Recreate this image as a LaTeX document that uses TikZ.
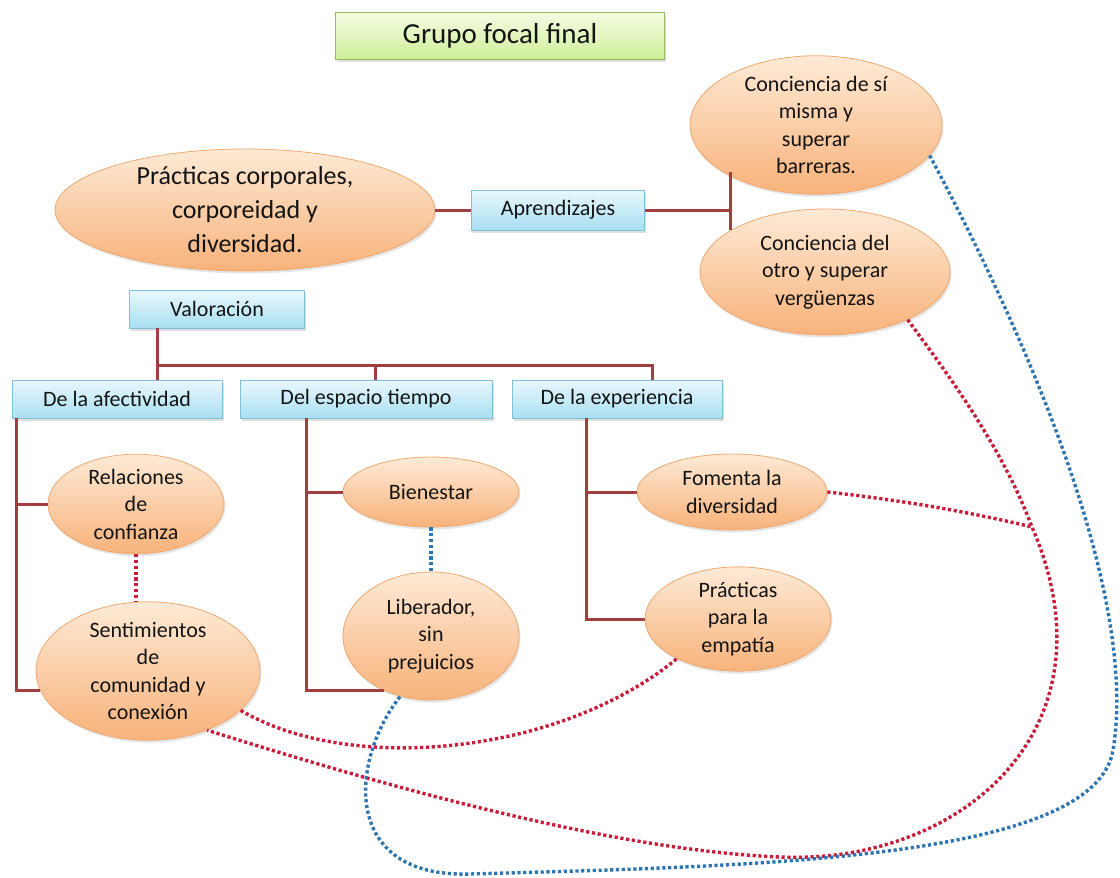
\documentclass[tikz,border=0pt]{standalone}
\usepackage{fontspec}
\setmainfont{Carlito}
\usetikzlibrary{shapes.geometric,shadows}
\definecolor{treeline}{RGB}{160,62,64}
\definecolor{reddot}{RGB}{200,28,58}
\definecolor{bluedot}{RGB}{46,118,178}
\definecolor{boxtop}{RGB}{234,248,253}
\definecolor{boxbot}{RGB}{168,223,241}
\definecolor{boxline}{RGB}{125,192,216}
\definecolor{elltop}{RGB}{253,234,214}
\definecolor{ellbot}{RGB}{248,178,122}
\definecolor{ellline}{RGB}{238,168,112}
\definecolor{titletop}{RGB}{246,252,228}
\definecolor{titlebot}{RGB}{206,238,152}
\definecolor{titleline}{RGB}{150,185,92}
\begin{document}
\begin{tikzpicture}[x=1pt,y=1pt]
\tikzstyle{every node}+=[inner sep=0pt,align=center,text=black!92]
\tikzstyle{titlenode}=[rectangle,draw=titleline,line width=0.8pt,top color=titletop,bottom color=titlebot,drop shadow={opacity=0.25,shadow xshift=1.5pt,shadow yshift=-2.5pt},font=\fontsize{29}{34}\selectfont]
\tikzstyle{boxnode}=[rectangle,draw=boxline,line width=0.8pt,top color=boxtop,bottom color=boxbot,drop shadow={opacity=0.25,shadow xshift=1.5pt,shadow yshift=-2.5pt},font=\fontsize{22}{27}\selectfont]
\tikzstyle{ellnode}=[ellipse,draw=ellline,line width=0.8pt,top color=elltop,bottom color=ellbot,drop shadow={opacity=0.2,shadow xshift=1.5pt,shadow yshift=-2.5pt},font=\fontsize{22}{27.5}\selectfont]
\tikzstyle{tree}=[treeline,line width=3pt]
\tikzstyle{reddots}=[reddot,line width=3.4pt,dash pattern=on 3.2pt off 2.6pt]
\tikzstyle{bluedots}=[bluedot,line width=3.4pt,dash pattern=on 3.2pt off 2.6pt]
\useasboundingbox (0,0) rectangle (1120,-878);
\node[titlenode,minimum width=329pt,minimum height=47pt] (ttl) at (500,-36) {Grupo focal final};
\node[ellnode,minimum width=380pt,minimum height=102pt,font=\fontsize{26}{34}\selectfont] (prc) at (245,-210) {Prácticas corporales,\\corporeidad y\\diversidad.};
\node[boxnode,minimum width=173pt,minimum height=40pt] (apr) at (558,-210) {Aprendizajes};
\node[ellnode,minimum width=252pt,minimum height=130pt] (sel) at (816,-125) {Conciencia de sí\\misma y\\superar\\barreras.};
\node[ellnode,minimum width=250pt,minimum height=126pt] (oth) at (825,-272) {Conciencia del\\otro y superar\\vergüenzas};
\node[boxnode,minimum width=175pt,minimum height=38pt] (val) at (217,-309) {Valoración};
\node[boxnode,minimum width=210pt,minimum height=38pt] (afe) at (117,-399) {De la afectividad};
\node[boxnode,minimum width=252pt,minimum height=38pt] (esp) at (366,-399) {Del espacio tiempo};
\node[boxnode,minimum width=210pt,minimum height=38pt] (exp) at (617,-399) {De la experiencia};
\node[ellnode,minimum width=176pt,minimum height=92pt] (rel) at (136,-504) {Relaciones\\de\\confianza};
\node[ellnode,minimum width=224pt,minimum height=128pt] (sen) at (148,-671) {Sentimientos\\de\\comunidad y\\conexión};
\node[ellnode,minimum width=176pt,minimum height=70pt] (bie) at (431,-492) {Bienestar};
\node[ellnode,minimum width=176pt,minimum height=128pt] (lib) at (431,-636) {Liberador,\\sin\\prejuicios};
\node[ellnode,minimum width=190pt,minimum height=76pt] (fom) at (732,-492) {Fomenta la\\diversidad};
\node[ellnode,minimum width=186pt,minimum height=88pt] (pra) at (738,-619) {Prácticas\\para la\\empatía};
\coordinate (fork) at (730,-210);
\coordinate (busL) at (157,-365);
\coordinate (busM) at (375,-365);
\coordinate (busR) at (652,-365);
\coordinate (tA) at ([xshift=5pt]afe.south west);
\coordinate (tB) at ([xshift=67pt]esp.south west);
\coordinate (tC) at ([xshift=75pt]exp.south west);
\coordinate (meet) at (1032,-527);
\coordinate (rlow) at (780,-857);
\coordinate (blow) at (470,-874);
\draw[tree] (prc.east) -- (apr.west);
\draw[tree] (apr.east) -- (fork);
\draw[tree] ([yshift=38pt]fork) -- ([yshift=-20pt]fork);
\draw[tree] (val.south -| busL) -- (busL) -- (busR) -- (busR |- exp.north);
\draw[tree] (busL) -- (busL |- afe.north);
\draw[tree] (busM) -- (busM |- esp.north);
\draw[tree] (tA) |- (sen.190);
\draw[tree] (tA |- rel.west) -- (rel.west);
\draw[tree] (tB) |- (lib.229);
\draw[tree] (tB |- bie.west) -- (bie.west);
\draw[tree] (tC) |- (pra.west);
\draw[tree] (tC |- fom.west) -- (fom.west);
\draw[reddots] (rel.south) -- (rel.south |- sen.north);
\draw[bluedots] (bie.south) -- (lib.north);
\draw[reddots] (oth.330) .. controls (960,-390) and (1005,-455) .. (meet) .. controls (1120,-730) and (960,-865) .. (rlow) .. controls (600,-850) and (350,-775) .. (sen.315);
\draw[reddots] (fom.east) .. controls (900,-500) and (970,-512) .. (meet);
\draw[reddots] (sen.337) .. controls (350,-775) and (560,-755) .. (pra.213);
\draw[bluedots] (sel.345) .. controls (1060,-400) and (1135,-620) .. (1113,-750) .. controls (1095,-860) and (760,-866) .. (blow) .. controls (340,-878) and (350,-760) .. (lib.243);
\end{tikzpicture}
\end{document}
